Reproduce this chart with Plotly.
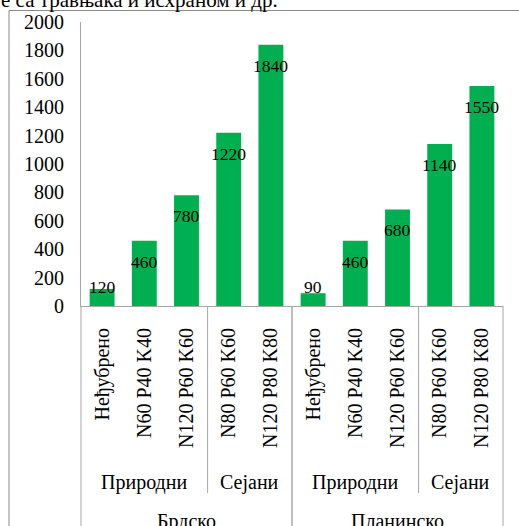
import plotly.graph_objects as go

# Yield data: region -> grassland type -> fertilisation treatment
treatments = ["Неђубрено", "N60 P40 K40", "N120 P60 K60", "N80 P60 K60", "N120 P80 K80",
              "Неђубрено", "N60 P40 K40", "N120 P60 K60", "N80 P60 K60", "N120 P80 K80"]
values = [120, 460, 780, 1220, 1840, 90, 460, 680, 1140, 1550]

grass_types = ["Природни", "Сејани", "Природни", "Сејани"]
grass_type_spans = [(0, 2), (3, 4), (5, 7), (8, 9)]
regions = ["Брдско", "Планинско"]
region_spans = [(0, 4), (5, 9)]

y_ticks = list(range(0, 2001, 200))

FONT = "Liberation Serif, Times New Roman, serif"
BAR_COLOR = "#00B050"
AXIS_COLOR = "#a6a6a6"
BORDER_COLOR = "#898989"

W, H = 519, 526
ML, MR, MT, MB = 81, 16, 22, 220
PLOT_W = W - ML - MR
PLOT_H = H - MT - MB
n = len(treatments)


def px_to_paper_x(px):
    return (px - ML) / PLOT_W


def px_to_paper_y(py):
    return (H - MB - py) / PLOT_H


def cat_edge(i):
    # paper x of the boundary on the left of category i
    return i / n


x_idx = list(range(n))

fig = go.Figure(go.Bar(
    x=x_idx,
    y=values,
    marker=dict(color=BAR_COLOR, line=dict(width=0)),
    width=0.59,
    hoverinfo="skip",
))

annotations = []
# value labels at the inside end of each bar
for i, v in enumerate(values):
    if v >= 290:
        annotations.append(dict(x=i, y=v, xref="x", yref="y", text=str(v), showarrow=False,
                                yanchor="middle", yshift=-21,
                                font=dict(family=FONT, size=17.5, color="black")))
    else:
        annotations.append(dict(x=i, y=0, xref="x", yref="y", text=str(v), showarrow=False,
                                yanchor="middle", yshift=19,
                                font=dict(family=FONT, size=17.5, color="black")))

# second level of the category axis
for name, (a, b) in zip(grass_types, grass_type_spans):
    annotations.append(dict(x=(a + b + 1) / 2 / n, y=px_to_paper_y(482), xref="paper", yref="paper",
                            text=name, showarrow=False, xanchor="center", yanchor="middle",
                            font=dict(family=FONT, size=20, color="black")))
# third level of the category axis
for name, (a, b) in zip(regions, region_spans):
    annotations.append(dict(x=(a + b + 1) / 2 / n, y=px_to_paper_y(521), xref="paper", yref="paper",
                            text=name, showarrow=False, xanchor="center", yanchor="middle",
                            font=dict(family=FONT, size=20, color="black")))

# running text of the page above the chart
annotations.append(dict(x=px_to_paper_x(-1), y=px_to_paper_y(0), xref="paper", yref="paper",
                        text="е са травњака и исхраном и др.", showarrow=False,
                        xanchor="left", yanchor="middle",
                        font=dict(family=FONT, size=21, color="black")))

shapes = []
# chart frame
shapes.append(dict(type="rect", xref="paper", yref="paper",
                   x0=px_to_paper_x(9), x1=px_to_paper_x(540),
                   y0=px_to_paper_y(545), y1=px_to_paper_y(10.5),
                   line=dict(color=BORDER_COLOR, width=1), fillcolor="rgba(0,0,0,0)", layer="below"))
# dividers between regions (full depth)
for a, b in region_spans:
    for edge in (a, b + 1):
        shapes.append(dict(type="line", xref="paper", yref="paper",
                           x0=cat_edge(edge), x1=cat_edge(edge),
                           y0=0, y1=px_to_paper_y(545),
                           line=dict(color=AXIS_COLOR, width=1)))
# dividers between grassland types inside a region
for a, b in grass_type_spans:
    if b + 1 not in (0, 5, 10):
        shapes.append(dict(type="line", xref="paper", yref="paper",
                           x0=cat_edge(b + 1), x1=cat_edge(b + 1),
                           y0=0, y1=px_to_paper_y(493),
                           line=dict(color=AXIS_COLOR, width=1)))

fig.update_layout(
    width=W, height=H,
    margin=dict(l=ML, r=MR, t=MT, b=MB, pad=0),
    paper_bgcolor="white", plot_bgcolor="white",
    showlegend=False,
    font=dict(family=FONT, size=20, color="black"),
    annotations=annotations,
    shapes=shapes,
    xaxis=dict(
        range=[-0.5, n - 0.5],
        tickmode="array", tickvals=x_idx, ticktext=treatments,
        tickangle=-90,
        showline=True, linecolor=AXIS_COLOR, linewidth=1,
        showgrid=False, zeroline=False, ticks="",
        ticklabelstandoff=13,
        tickfont=dict(family=FONT, size=20, color="black"),
        fixedrange=True,
    ),
    yaxis=dict(
        range=[0, 2000],
        tickmode="array", tickvals=y_ticks, ticktext=[str(t) for t in y_ticks],
        showline=True, linecolor=AXIS_COLOR, linewidth=1,
        showgrid=False, zeroline=False, ticks="",
        ticklabelstandoff=12,
        tickfont=dict(family=FONT, size=20, color="black"),
        fixedrange=True,
    ),
)

fig.write_html("out.html", config={"displayModeBar": False})
